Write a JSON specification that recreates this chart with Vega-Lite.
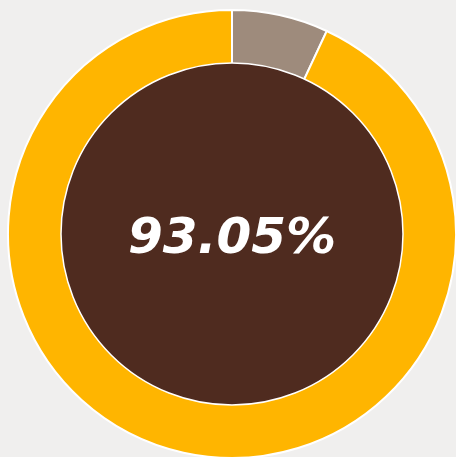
{
  "$schema": "https://vega.github.io/schema/vega-lite/v6.json",
  "width": 448,
  "height": 448,
  "autosize": "none",
  "padding": {"left": 8, "top": 10, "right": 0, "bottom": 0},
  "background": "#F0EFEE",
  "config": {"view": {"stroke": null}},
  "resolve": {"scale": {"theta": "independent", "color": "independent"}},
  "layer": [
    {
      "data": {"values": [
        {"part": "rest", "value": 6.95, "order": 1},
        {"part": "done", "value": 93.05, "order": 2}
      ]},
      "mark": {"type": "arc", "outerRadius": 224, "innerRadius": 150, "stroke": "white", "strokeWidth": 2},
      "encoding": {
        "theta": {"field": "value", "type": "quantitative", "stack": true},
        "order": {"field": "order", "type": "quantitative"},
        "color": {"field": "part", "type": "nominal", "scale": {"domain": ["rest", "done"], "range": ["#9E8B7C", "#FFB500"]}, "legend": null}
      }
    },
    {
      "data": {"values": [{"label": "93.05%", "full": 1}]},
      "mark": {"type": "arc", "outerRadius": 171, "innerRadius": 0, "fill": "#4F2B1F", "stroke": "white", "strokeWidth": 1.5},
      "encoding": {"theta": {"field": "full", "type": "quantitative"}}
    },
    {
      "data": {"values": [{"label": "93.05%"}]},
      "mark": {"type": "text", "font": "DejaVu Sans", "fontSize": 50, "fontWeight": "bold", "fontStyle": "italic", "color": "white", "align": "center", "baseline": "middle", "dy": 4},
      "encoding": {"text": {"field": "label", "type": "nominal"}}
    }
  ]
}
